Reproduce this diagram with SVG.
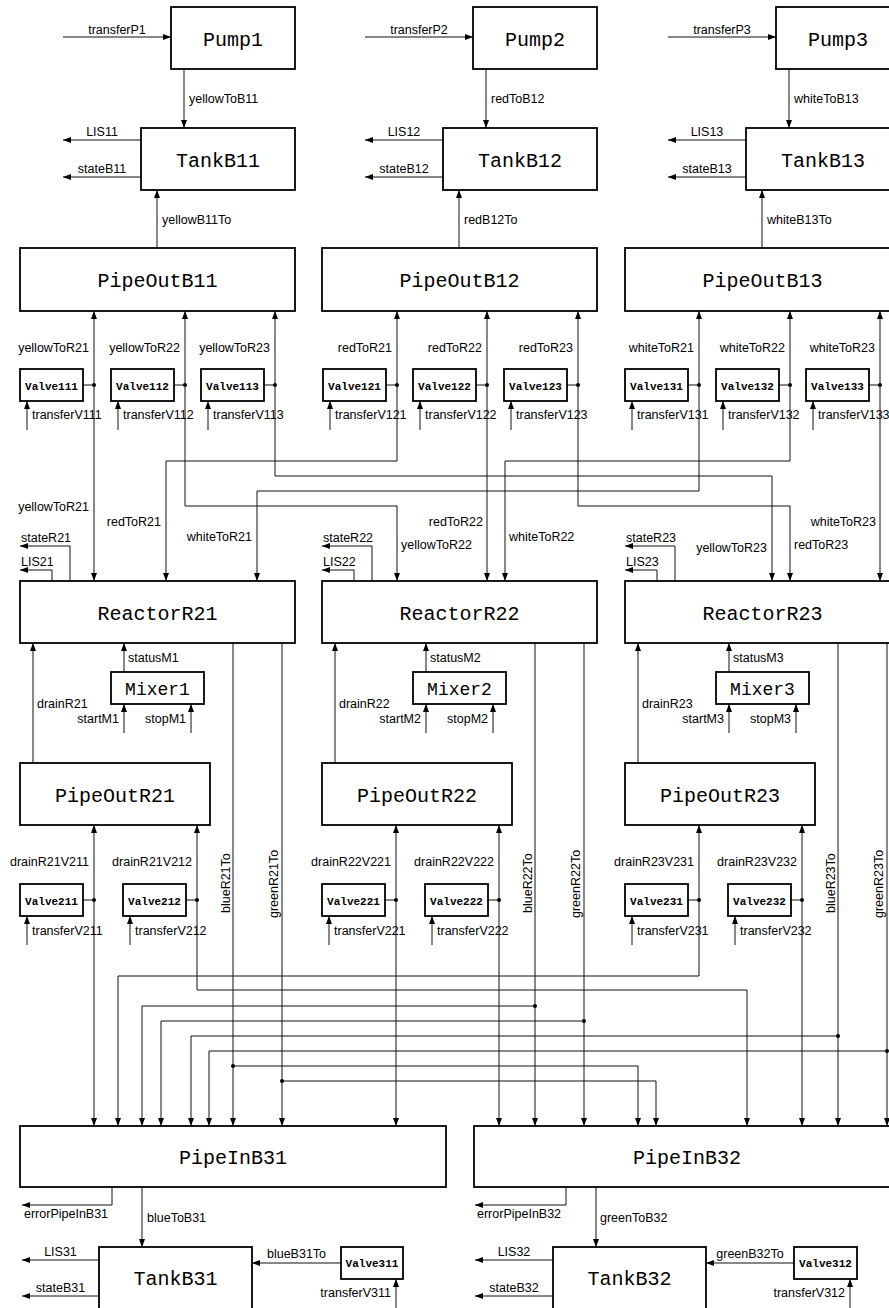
<svg xmlns="http://www.w3.org/2000/svg" width="889" height="1308" viewBox="0 0 889 1308">
<style>
  .n rect { fill: #fff; stroke: #000; stroke-width: 1.8; }
  .n text { font-family: "Liberation Mono", "DejaVu Sans Mono", monospace; text-anchor: middle; fill: #000; font-size: 20px; }
  .n.mx text { font-size: 18px; }
  .n.v text { font-size: 11px; font-weight: bold; }
  #wires path { fill: none; stroke: #111; stroke-width: 1; marker-end: url(#ah); }
  #wires path.b { marker-start: url(#ah); }
  #wires path.s { marker-end: none; }
  #wires circle { fill: #000; }
  #wires text { font-family: "Liberation Sans", "DejaVu Sans", sans-serif; font-size: 12.5px; fill: #000; }
  #wires text.e { text-anchor: end; }
  #wires text.m { text-anchor: middle; }
</style>
<defs>
  <marker id="ah" markerUnits="userSpaceOnUse" markerWidth="8" markerHeight="6" refX="8" refY="3" orient="auto-start-reverse">
    <path d="M0,0 L8,3 L0,6 z" fill="#000"/>
  </marker>
</defs>
<rect width="889" height="1308" fill="#fff"/>

<!-- ===== connectors ===== -->
<g id="wires">
  <!-- pumps and upper tanks -->
  <path d="M63,37H171"/><text class="m" x="117" y="34">transferP1</text>
  <path d="M184,69V128"/><text x="189" y="103">yellowToB11</text>
  <path d="M141,140H63"/><text class="m" x="102" y="136">LIS11</text>
  <path d="M141,177H63"/><text class="m" x="102" y="173">stateB11</text>
  <path d="M157,248V190"/><text x="162" y="224">yellowB11To</text>

  <path d="M365,37H473"/><text class="m" x="419" y="34">transferP2</text>
  <path d="M486,69V128"/><text x="491" y="103">redToB12</text>
  <path d="M443,140H365"/><text class="m" x="404" y="136">LIS12</text>
  <path d="M443,177H365"/><text class="m" x="404" y="173">stateB12</text>
  <path d="M459,248V190"/><text x="464" y="224">redB12To</text>

  <path d="M668,37H776"/><text class="m" x="722" y="34">transferP3</text>
  <path d="M789,69V128"/><text x="794" y="103">whiteToB13</text>
  <path d="M746,140H668"/><text class="m" x="707" y="136">LIS13</text>
  <path d="M746,177H668"/><text class="m" x="707" y="173">stateB13</text>
  <path d="M762,248V190"/><text x="767" y="224">whiteB13To</text>

  <!-- upper valve row: valve taps and transfer inputs -->
  <path class="s" d="M83,385H94"/><circle cx="94" cy="385" r="2"/>
  <path class="s" d="M174,385H185"/><circle cx="185" cy="385" r="2"/>
  <path class="s" d="M264,385H275"/><circle cx="275" cy="385" r="2"/>
  <path class="s" d="M386,385H397"/><circle cx="397" cy="385" r="2"/>
  <path class="s" d="M476,385H487"/><circle cx="487" cy="385" r="2"/>
  <path class="s" d="M567,385H578"/><circle cx="578" cy="385" r="2"/>
  <path class="s" d="M688,385H699"/><circle cx="699" cy="385" r="2"/>
  <path class="s" d="M779,385H790"/><circle cx="790" cy="385" r="2"/>
  <path class="s" d="M869,385H880"/><circle cx="880" cy="385" r="2"/>

  <path d="M27,430V401"/><text x="32" y="419">transferV111</text>
  <path d="M118,430V401"/><text x="123" y="419">transferV112</text>
  <path d="M208,430V401"/><text x="213" y="419">transferV113</text>
  <path d="M330,430V401"/><text x="335" y="419">transferV121</text>
  <path d="M420,430V401"/><text x="425" y="419">transferV122</text>
  <path d="M511,430V401"/><text x="516" y="419">transferV123</text>
  <path d="M632,430V401"/><text x="637" y="419">transferV131</text>
  <path d="M723,430V401"/><text x="728" y="419">transferV132</text>
  <path d="M813,430V401"/><text x="818" y="419">transferV133</text>

  <text class="e" x="89" y="352">yellowToR21</text>
  <text class="e" x="180" y="352">yellowToR22</text>
  <text class="e" x="270" y="352">yellowToR23</text>
  <text class="e" x="392" y="352">redToR21</text>
  <text class="e" x="482" y="352">redToR22</text>
  <text class="e" x="573" y="352">redToR23</text>
  <text class="e" x="694" y="352">whiteToR21</text>
  <text class="e" x="785" y="352">whiteToR22</text>
  <text class="e" x="875" y="352">whiteToR23</text>

  <!-- feeds from upper pipes to reactors -->
  <path class="b" d="M94,311V581"/>
  <path class="b" d="M185,311V506H397V581"/>
  <path class="b" d="M275,311V476H772V581"/>
  <path class="b" d="M397,311V461H166V581"/>
  <path class="b" d="M487,311V581"/>
  <path class="b" d="M578,311V506H790V581"/>
  <path class="b" d="M699,311V491H257V581"/>
  <path class="b" d="M790,311V461H505V581"/>
  <path class="b" d="M880,311V581"/>

  <text class="e" x="89" y="511">yellowToR21</text>
  <text class="e" x="161" y="526">redToR21</text>
  <text class="e" x="252" y="541">whiteToR21</text>
  <text class="e" x="483" y="526">redToR22</text>
  <text x="401" y="549">yellowToR22</text>
  <text x="509" y="541">whiteToR22</text>
  <text class="e" x="767" y="552">yellowToR23</text>
  <text x="794" y="549">redToR23</text>
  <text class="e" x="876" y="526">whiteToR23</text>

  <!-- reactor status outputs -->
  <path d="M70,581V546H20"/><text x="21" y="542">stateR21</text>
  <path d="M52,581V570H20"/><text x="21" y="566">LIS21</text>
  <path d="M372,581V546H322"/><text x="323" y="542">stateR22</text>
  <path d="M354,581V570H322"/><text x="323" y="566">LIS22</text>
  <path d="M675,581V546H625"/><text x="626" y="542">stateR23</text>
  <path d="M657,581V570H625"/><text x="626" y="566">LIS23</text>

  <!-- mixers and drains -->
  <path d="M33,763V643"/><text x="37" y="708">drainR21</text>
  <path d="M124,672V643"/><text x="128" y="662">statusM1</text>
  <path d="M124,733V704"/><text class="e" x="119" y="723">startM1</text>
  <path d="M191,733V704"/><text class="e" x="186" y="723">stopM1</text>

  <path d="M335,763V643"/><text x="339" y="708">drainR22</text>
  <path d="M426,672V643"/><text x="430" y="662">statusM2</text>
  <path d="M426,733V704"/><text class="e" x="421" y="723">startM2</text>
  <path d="M493,733V704"/><text class="e" x="488" y="723">stopM2</text>

  <path d="M638,763V643"/><text x="642" y="708">drainR23</text>
  <path d="M729,672V643"/><text x="733" y="662">statusM3</text>
  <path d="M729,733V704"/><text class="e" x="724" y="723">startM3</text>
  <path d="M796,733V704"/><text class="e" x="791" y="723">stopM3</text>

  <!-- lower valve row -->
  <path class="s" d="M83,900H94"/><circle cx="94" cy="900" r="2"/>
  <path class="s" d="M186,900H197"/><circle cx="197" cy="900" r="2"/>
  <path class="s" d="M385,900H396"/><circle cx="396" cy="900" r="2"/>
  <path class="s" d="M488,900H499"/><circle cx="499" cy="900" r="2"/>
  <path class="s" d="M688,900H699"/><circle cx="699" cy="900" r="2"/>
  <path class="s" d="M791,900H802"/><circle cx="802" cy="900" r="2"/>

  <path d="M27,945V916"/><text x="32" y="935">transferV211</text>
  <path d="M130,945V916"/><text x="135" y="935">transferV212</text>
  <path d="M329,945V916"/><text x="334" y="935">transferV221</text>
  <path d="M432,945V916"/><text x="437" y="935">transferV222</text>
  <path d="M632,945V916"/><text x="637" y="935">transferV231</text>
  <path d="M735,945V916"/><text x="740" y="935">transferV232</text>

  <text class="e" x="89" y="866">drainR21V211</text>
  <text class="e" x="192" y="866">drainR21V212</text>
  <text class="e" x="391" y="866">drainR22V221</text>
  <text class="e" x="494" y="866">drainR22V222</text>
  <text class="e" x="694" y="866">drainR23V231</text>
  <text class="e" x="797" y="866">drainR23V232</text>

  <!-- drains into the lower pipes -->
  <path class="b" d="M94,825V1126"/>
  <path class="b" d="M197,825V990H747V1126"/>
  <path class="b" d="M396,825V1126"/>
  <path class="b" d="M499,825V1126"/>
  <path class="b" d="M699,825V976H118V1126"/>
  <path class="b" d="M802,825V1126"/>

  <!-- blue and green outputs of the reactors -->
  <path d="M233,643V1126"/>
  <path d="M282,643V1126"/>
  <path d="M535,643V1126"/>
  <path d="M584,643V1126"/>
  <path d="M838,643V1126"/>
  <path d="M887,643V1126"/>
  <text transform="translate(230,913) rotate(-90)">blueR21To</text>
  <text transform="translate(278,918) rotate(-90)">greenR21To</text>
  <text transform="translate(532,913) rotate(-90)">blueR22To</text>
  <text transform="translate(580,918) rotate(-90)">greenR22To</text>
  <text transform="translate(835,913) rotate(-90)">blueR23To</text>
  <text transform="translate(883,918) rotate(-90)">greenR23To</text>

  <path d="M535,1006H142V1126"/><circle cx="535" cy="1006" r="2"/>
  <path d="M584,1021H161V1126"/><circle cx="584" cy="1021" r="2"/>
  <path d="M838,1036H191V1126"/><circle cx="838" cy="1036" r="2"/>
  <path d="M887,1051H209V1126"/><circle cx="887" cy="1051" r="2"/>
  <path d="M233,1066H638V1126"/><circle cx="233" cy="1066" r="2"/>
  <path d="M282,1081H656V1126"/><circle cx="282" cy="1081" r="2"/>

  <!-- lower pipes and tanks -->
  <path d="M112,1187V1205H22"/><text x="24" y="1218">errorPipeInB31</text>
  <path d="M142,1187V1247"/><text x="147" y="1222">blueToB31</text>
  <path d="M99,1260H22"/><text class="m" x="60.5" y="1256">LIS31</text>
  <path d="M99,1296H22"/><text class="m" x="60.5" y="1292">stateB31</text>
  <path d="M341,1263H252"/><text class="m" x="296.5" y="1258">blueB31To</text>
  <path d="M396,1308V1279"/><text class="e" x="391" y="1297">transferV311</text>

  <path d="M566,1187V1205H475"/><text x="477" y="1218">errorPipeInB32</text>
  <path d="M596,1187V1247"/><text x="600" y="1222">greenToB32</text>
  <path d="M553,1260H475"/><text class="m" x="514" y="1256">LIS32</text>
  <path d="M553,1296H475"/><text class="m" x="514" y="1292">stateB32</text>
  <path d="M794,1263H706"/><text class="m" x="750" y="1258">greenB32To</text>
  <path d="M850,1308V1279"/><text class="e" x="845" y="1297">transferV312</text>
</g>

<!-- ===== nodes ===== -->
<g id="Pump1" class="n"><rect x="171" y="7" width="124" height="62"/><text x="233" y="46">Pump1</text></g>
<g id="Pump2" class="n"><rect x="473" y="7" width="124" height="62"/><text x="535" y="46">Pump2</text></g>
<g id="Pump3" class="n"><rect x="776" y="7" width="124" height="62"/><text x="838" y="46">Pump3</text></g>

<g id="TankB11" class="n"><rect x="141" y="128" width="154" height="62"/><text x="218" y="167">TankB11</text></g>
<g id="TankB12" class="n"><rect x="443" y="128" width="154" height="62"/><text x="520" y="167">TankB12</text></g>
<g id="TankB13" class="n"><rect x="746" y="128" width="154" height="62"/><text x="823" y="167">TankB13</text></g>

<g id="PipeOutB11" class="n"><rect x="20" y="248" width="275" height="63"/><text x="157.5" y="287">PipeOutB11</text></g>
<g id="PipeOutB12" class="n"><rect x="322" y="248" width="275" height="63"/><text x="459.5" y="287">PipeOutB12</text></g>
<g id="PipeOutB13" class="n"><rect x="625" y="248" width="275" height="63"/><text x="762.5" y="287">PipeOutB13</text></g>

<g id="Valve111" class="n v"><rect x="20" y="369" width="63" height="32"/><text x="51.5" y="390">Valve111</text></g>
<g id="Valve112" class="n v"><rect x="111" y="369" width="63" height="32"/><text x="142.5" y="390">Valve112</text></g>
<g id="Valve113" class="n v"><rect x="201" y="369" width="63" height="32"/><text x="232.5" y="390">Valve113</text></g>
<g id="Valve121" class="n v"><rect x="323" y="369" width="63" height="32"/><text x="354.5" y="390">Valve121</text></g>
<g id="Valve122" class="n v"><rect x="413" y="369" width="63" height="32"/><text x="444.5" y="390">Valve122</text></g>
<g id="Valve123" class="n v"><rect x="504" y="369" width="63" height="32"/><text x="535.5" y="390">Valve123</text></g>
<g id="Valve131" class="n v"><rect x="625" y="369" width="63" height="32"/><text x="656.5" y="390">Valve131</text></g>
<g id="Valve132" class="n v"><rect x="716" y="369" width="63" height="32"/><text x="747.5" y="390">Valve132</text></g>
<g id="Valve133" class="n v"><rect x="806" y="369" width="63" height="32"/><text x="837.5" y="390">Valve133</text></g>

<g id="ReactorR21" class="n"><rect x="20" y="581" width="275" height="62"/><text x="157.5" y="620">ReactorR21</text></g>
<g id="ReactorR22" class="n"><rect x="322" y="581" width="275" height="62"/><text x="459.5" y="620">ReactorR22</text></g>
<g id="ReactorR23" class="n"><rect x="625" y="581" width="275" height="62"/><text x="762.5" y="620">ReactorR23</text></g>

<g id="Mixer1" class="n mx"><rect x="111" y="672" width="93" height="32"/><text x="157.5" y="695">Mixer1</text></g>
<g id="Mixer2" class="n mx"><rect x="413" y="672" width="93" height="32"/><text x="459.5" y="695">Mixer2</text></g>
<g id="Mixer3" class="n mx"><rect x="716" y="672" width="93" height="32"/><text x="762.5" y="695">Mixer3</text></g>

<g id="PipeOutR21" class="n"><rect x="20" y="763" width="190" height="62"/><text x="115" y="802">PipeOutR21</text></g>
<g id="PipeOutR22" class="n"><rect x="322" y="763" width="190" height="62"/><text x="417" y="802">PipeOutR22</text></g>
<g id="PipeOutR23" class="n"><rect x="625" y="763" width="190" height="62"/><text x="720" y="802">PipeOutR23</text></g>

<g id="Valve211" class="n v"><rect x="20" y="884" width="63" height="32"/><text x="51.5" y="905">Valve211</text></g>
<g id="Valve212" class="n v"><rect x="123" y="884" width="63" height="32"/><text x="154.5" y="905">Valve212</text></g>
<g id="Valve221" class="n v"><rect x="322" y="884" width="63" height="32"/><text x="353.5" y="905">Valve221</text></g>
<g id="Valve222" class="n v"><rect x="425" y="884" width="63" height="32"/><text x="456.5" y="905">Valve222</text></g>
<g id="Valve231" class="n v"><rect x="625" y="884" width="63" height="32"/><text x="656.5" y="905">Valve231</text></g>
<g id="Valve232" class="n v"><rect x="728" y="884" width="63" height="32"/><text x="759.5" y="905">Valve232</text></g>

<g id="PipeInB31" class="n"><rect x="20" y="1126" width="426" height="61"/><text x="233" y="1164">PipeInB31</text></g>
<g id="PipeInB32" class="n"><rect x="474" y="1126" width="430" height="61"/><text x="687" y="1164">PipeInB32</text></g>

<g id="TankB31" class="n"><rect x="99" y="1247" width="153" height="70"/><text x="175.5" y="1285">TankB31</text></g>
<g id="Valve311" class="n v"><rect x="341" y="1247" width="62" height="32"/><text x="372" y="1267">Valve311</text></g>
<g id="TankB32" class="n"><rect x="553" y="1247" width="153" height="70"/><text x="629.5" y="1285">TankB32</text></g>
<g id="Valve312" class="n v"><rect x="794" y="1247" width="63" height="32"/><text x="825.5" y="1267">Valve312</text></g>
</svg>
